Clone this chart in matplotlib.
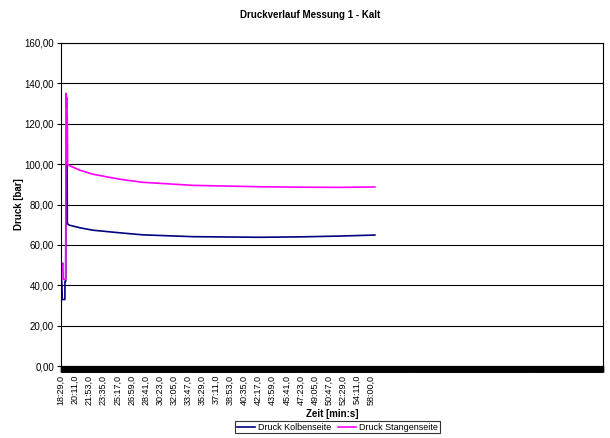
import matplotlib
matplotlib.use("Agg")
import matplotlib.pyplot as plt
from matplotlib.ticker import FixedLocator

plt.rcParams['font.family'] = ['Liberation Sans', 'DejaVu Sans']

# sample index (1 per second) and pressure values
kolben_idx = [0, 2, 6, 9, 28, 29, 34, 36, 44, 46, 60, 137, 231, 427, 593, 954, 1439, 1728, 2017, 2270]
kolben_bar = [0, 44, 40, 33, 33, 42, 42, 101, 100, 70.5, 69.8, 68.5, 67.3, 66.0, 65.0, 64.1, 63.8, 64.0, 64.4, 64.9]

stange_idx = [0, 2, 6, 14, 16, 34, 36, 40, 42, 46, 48, 60, 137, 231, 427, 593, 954, 1439, 1728, 2017, 2270]
stange_bar = [0, 51, 50, 51, 43, 43, 135, 128, 133, 120, 100, 99.3, 97.0, 95.0, 92.5, 91.0, 89.5, 88.8, 88.6, 88.5, 88.7]

tick_labels = ["18:29,0", "20:11,0", "21:53,0", "23:35,0", "25:17,0", "26:59,0", "28:41,0",
               "30:23,0", "32:05,0", "33:47,0", "35:29,0", "37:11,0", "38:53,0", "40:35,0",
               "42:17,0", "43:59,0", "45:41,0", "47:23,0", "49:05,0", "50:47,0", "52:29,0",
               "54:11,0", "58:00,0"]
tick_step = 102

fig = plt.figure(figsize=(6.1, 4.38), dpi=100)
ax = fig.add_axes([0.1, 0.164, 0.8885, 0.738])

ax.plot(kolben_idx, kolben_bar, color='#000080', lw=1.2, label='Druck Kolbenseite')
ax.plot(stange_idx, stange_bar, color='#FF00FF', lw=1.2, label='Druck Stangenseite')

ax.set_xlim(0, 3920)
ax.set_ylim(0, 160)
ax.set_yticks(range(0, 161, 20))
ax.set_yticklabels([f"{v},00" for v in range(0, 161, 20)], fontsize=7)
ax.grid(axis='y', color='black', lw=0.8)
ax.set_axisbelow(True)

ax.set_xticks([i * tick_step for i in range(len(tick_labels))])
ax.set_xticklabels(tick_labels, rotation=90, fontsize=6.5)
ax.xaxis.set_minor_locator(FixedLocator(range(0, 3921, 2)))
ax.tick_params(axis='x', which='both', length=4, width=1.0, pad=2)
ax.tick_params(axis='y', length=3, width=0.8, pad=2)

for s in ax.spines.values():
    s.set_linewidth(0.8)

ax.set_ylabel('Druck [bar]', fontsize=7, fontweight='bold', labelpad=0)
ax.set_xlabel('Zeit [min:s]', fontsize=7, fontweight='bold', labelpad=3)
fig.text(0.508, 0.966, 'Druckverlauf Messung 1 - Kalt', fontsize=7, fontweight='bold',
         ha='center', va='center')

leg = fig.legend(loc='lower center', bbox_to_anchor=(0.553, 0.0), ncol=2, fontsize=6.5,
                 frameon=True, fancybox=False, edgecolor='black', handlelength=2.0,
                 columnspacing=0.8, handletextpad=0.3, borderpad=0.2)
leg.get_frame().set_linewidth(0.8)

fig.savefig('out.png', dpi=100)
